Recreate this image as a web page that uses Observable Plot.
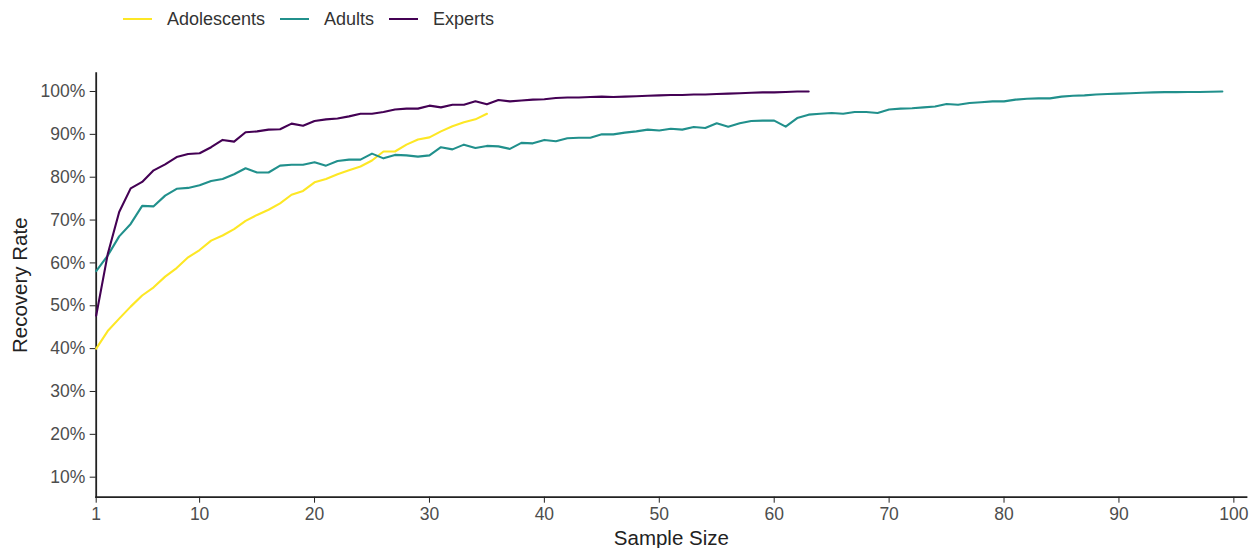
<!DOCTYPE html>
<html>
<head>
<meta charset="utf-8">
<script src="https://cdn.jsdelivr.net/npm/d3@7"></script>
<script src="https://cdn.jsdelivr.net/npm/@observablehq/plot@0.6"></script>
<style>
  html, body { margin: 0; padding: 0; background: #ffffff; }
  body { width: 1258px; height: 548px; overflow: hidden; font-family: "Liberation Sans", Arial, Helvetica, sans-serif; }
  #legend { height: 40px; display: flex; align-items: center; padding-left: 123px; box-sizing: border-box; padding-bottom: 2px; }
  .item { display: flex; align-items: center; margin-right: 15px; font-size: 18px; color: #333333; }
  .sw { width: 29px; height: 2.5px; margin-right: 15px; }
  #chart svg { display: block; }
</style>
</head>
<body>
<div id="legend"></div>
<div id="chart"></div>
<script>
// ---- data ----
const groups = ["Adolescents", "Adults", "Experts"];
const groupColors = ["#FDE725", "#21908C", "#440154"];

// recovery rate (%) for sample sizes 1..n
const adolescents = [40.0, 44.1, 47.0, 49.8, 52.4, 54.3, 56.8, 58.8, 61.3, 63.0,
  65.2, 66.4, 67.9, 69.8, 71.2, 72.4, 73.9, 75.9, 76.8, 78.8,
  79.6, 80.7, 81.6, 82.5, 83.9, 86.0, 86.0, 87.6, 88.8, 89.3,
  90.7, 91.9, 92.8, 93.5, 94.8];

const adults = [58.1, 61.7, 66.2, 69.1, 73.3, 73.2, 75.7, 77.3, 77.5, 78.1,
  79.1, 79.6, 80.7, 82.1, 81.1, 81.1, 82.7, 82.9, 82.9, 83.5,
  82.7, 83.8, 84.1, 84.1, 85.5, 84.4, 85.2, 85.1, 84.8, 85.1,
  87.0, 86.5, 87.6, 86.8, 87.3, 87.2, 86.6, 88.0, 87.9, 88.7,
  88.4, 89.1, 89.2, 89.2, 90.0, 90.0, 90.4, 90.7, 91.1, 90.9,
  91.3, 91.1, 91.7, 91.5, 92.6, 91.8, 92.6, 93.1, 93.2, 93.2,
  91.8, 93.8, 94.6, 94.8, 95.0, 94.8, 95.2, 95.2, 95.0, 95.8,
  96.0, 96.1, 96.3, 96.5, 97.1, 96.9, 97.3, 97.5, 97.7, 97.7,
  98.1, 98.3, 98.4, 98.4, 98.8, 99.0, 99.1, 99.3, 99.4, 99.5,
  99.6, 99.7, 99.8, 99.85, 99.85, 99.9, 99.9, 99.95, 100.0];

const experts = [47.7, 62.0, 71.9, 77.4, 78.9, 81.6, 83.0, 84.7, 85.4, 85.6,
  87.0, 88.7, 88.3, 90.5, 90.7, 91.1, 91.2, 92.5, 92.0, 93.1,
  93.5, 93.7, 94.2, 94.8, 94.8, 95.2, 95.8, 96.0, 96.0, 96.7,
  96.3, 96.9, 96.9, 97.7, 97.0, 98.0, 97.7, 97.9, 98.1, 98.2,
  98.5, 98.6, 98.6, 98.7, 98.8, 98.7, 98.8, 98.9, 99.0, 99.1,
  99.2, 99.2, 99.3, 99.3, 99.4, 99.5, 99.6, 99.7, 99.8, 99.8,
  99.9, 100.0, 100.0];

const xTicks = [1, 10, 20, 30, 40, 50, 60, 70, 80, 90, 100];
const yTicks = [0.1, 0.2, 0.3, 0.4, 0.5, 0.6, 0.7, 0.8, 0.9, 1.0];
const xLabel = "Sample Size";
const yLabel = "Recovery Rate";

// ---- table ----
const seriesValues = [adolescents, adults, experts];
const rows = [];
groups.forEach((g, gi) => {
  seriesValues[gi].forEach((v, i) => rows.push({group: g, size: i + 1, rate: v / 100}));
});

// ---- legend ----
const legend = document.getElementById("legend");
groups.forEach((g, i) => {
  const item = document.createElement("div");
  item.className = "item";
  const sw = document.createElement("span");
  sw.className = "sw";
  sw.style.background = groupColors[i];
  const t = document.createElement("span");
  t.textContent = g;
  item.appendChild(sw);
  item.appendChild(t);
  legend.appendChild(item);
});

// ---- chart ----
const chart = Plot.plot({
  width: 1258,
  height: 508,
  marginTop: 32.7,
  marginBottom: 51.3,
  marginLeft: 95.7,
  marginRight: 12,
  style: {fontFamily: "'Liberation Sans', Arial, Helvetica, sans-serif", background: "#ffffff", overflow: "visible"},
  x: {domain: [1, 101.1], ticks: xTicks},
  y: {domain: [0.0533, 1.0427], ticks: yTicks},
  color: {domain: groups, range: groupColors},
  marks: [
    Plot.axisX({ticks: xTicks, tickSize: 6, tickPadding: 4, fontSize: 17.5, color: "#4d4d4d", stroke: "#222", label: null, tickFormat: d => String(d)}),
    Plot.axisY({ticks: yTicks, tickSize: 6, tickPadding: 5, fontSize: 17.5, color: "#4d4d4d", stroke: "#222", label: null, tickFormat: d => Math.round(d * 100) + "%"}),
    Plot.frame({anchor: "left", stroke: "#222", strokeWidth: 1.8}),
    Plot.frame({anchor: "bottom", stroke: "#222", strokeWidth: 1.8}),
    Plot.line(rows, {x: "size", y: "rate", z: "group", stroke: "group", strokeWidth: 2.1, curve: "linear"}),
    Plot.text([xLabel], {frameAnchor: "bottom", lineAnchor: "middle", textAnchor: "middle", dy: 41, fontSize: 20.5, fill: "#222", text: d => d}),
    Plot.text([yLabel], {frameAnchor: "left", lineAnchor: "middle", textAnchor: "middle", dx: -76, rotate: -90, fontSize: 20.5, fill: "#222", text: d => d})
  ]
});
document.getElementById("chart").appendChild(chart);
</script>
</body>
</html>
